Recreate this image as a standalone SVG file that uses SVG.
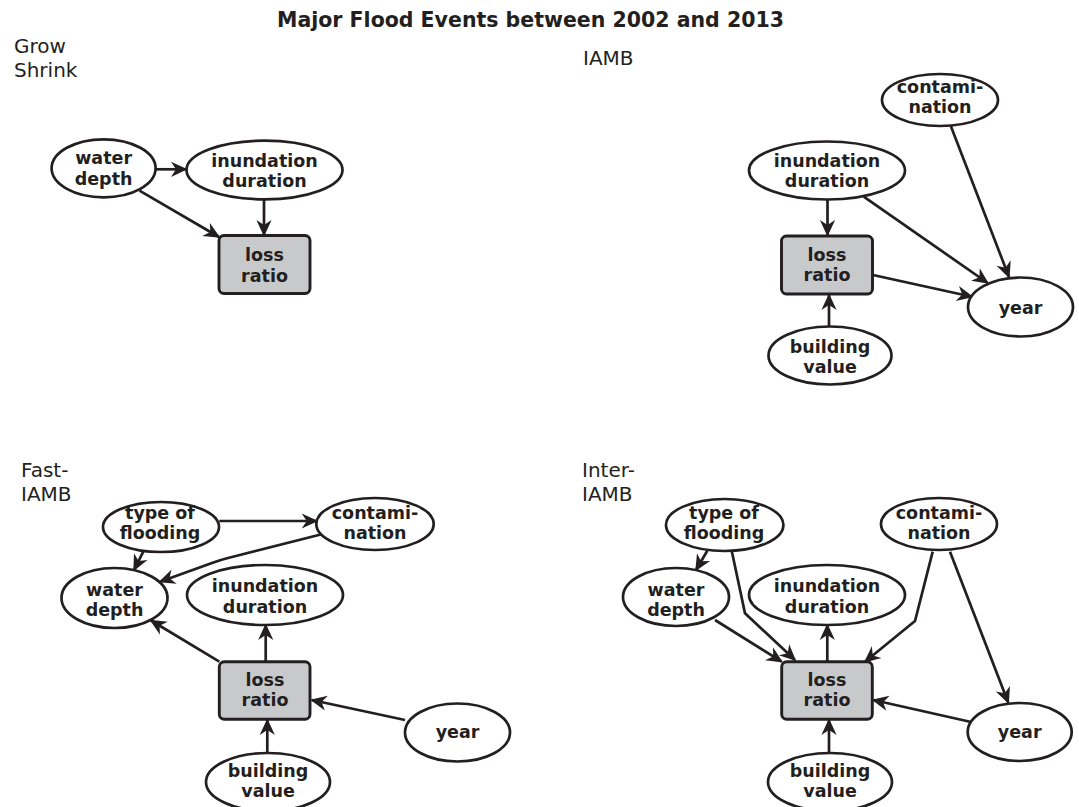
<svg xmlns="http://www.w3.org/2000/svg" width="1079" height="807" viewBox="0 0 1079 807">
<defs>
<style>
.bg{fill:#ffffff}
.title{font-family:"DejaVu Sans",sans-serif;font-weight:bold;font-size:20.5px;fill:#231f20;text-anchor:middle}
.lab{font-family:"DejaVu Sans",sans-serif;font-size:20px;fill:#231f20}
.node ellipse{fill:#ffffff;stroke:#231f20;stroke-width:2.7}
.node rect{fill:#c8c9cb;stroke:#231f20;stroke-width:2.9}
.node text{font-family:"DejaVu Sans",sans-serif;font-weight:bold;font-size:17.5px;fill:#231f20;text-anchor:middle}
.edges path{fill:none;stroke:#231f20;stroke-width:2.7;marker-end:url(#arr)}
</style>
<marker id="arr" viewBox="-17 -9 19 18" refX="0" refY="0" markerWidth="19" markerHeight="18" markerUnits="userSpaceOnUse" orient="auto">
<path d="M1.5,0 L-15,-7.6 L-10,0 L-15,7.6 Z" fill="#231f20"/>
</marker>
</defs>
<rect class="bg" x="0" y="0" width="1079" height="807"/>
<text class="title" x="530.5" y="27">Major Flood Events between 2002 and 2013</text>
<text class="lab" x="14" y="53">Grow</text>
<text class="lab" x="14" y="77">Shrink</text>
<text class="lab" x="583" y="65">IAMB</text>
<text class="lab" x="21" y="477">Fast-</text>
<text class="lab" x="21" y="501">IAMB</text>
<text class="lab" x="582" y="477">Inter-</text>
<text class="lab" x="582" y="501">IAMB</text>

<g class="edges" id="connectors">
<!-- Grow Shrink -->
<path d="M155.6,169.3 L186,169.3"/>
<path d="M139.5,190.7 L219,237"/>
<path d="M264,199.3 L264,235"/>
<!-- IAMB -->
<path d="M827.5,199.3 L827.5,235"/>
<path d="M863.7,196.7 L987.7,283"/>
<path d="M950.8,126 L1009,277"/>
<path d="M873,275 L972,296.7"/>
<path d="M829,326.7 L829,295"/>
<!-- Fast-IAMB -->
<path d="M219.3,521 L316.7,521"/>
<path d="M143.3,551.7 L134,570"/>
<path d="M321.7,534.3 L228,558 Q220,560 212,563 L160,581.7"/>
<path d="M219.3,661.7 L151,620.5"/>
<path d="M265.7,661.7 L265.7,625"/>
<path d="M267.3,752.7 L267.3,720"/>
<path d="M405,720 L311.7,700"/>
<!-- Inter-IAMB -->
<path d="M707.3,550.7 L696,570"/>
<path d="M731.7,550.7 L745,613.3 L795,660"/>
<path d="M715,620 L781.7,661.7"/>
<path d="M932.7,551.7 L915,621 L865,661.7"/>
<path d="M950,551.7 L1008.3,702.7"/>
<path d="M827.3,661.7 L827.3,625"/>
<path d="M829,752.7 L829,720"/>
<path d="M970,721.7 L873.3,700"/>
</g>

<!-- Grow Shrink -->
<g class="node" id="gs-water-depth"><ellipse cx="103.6" cy="168.3" rx="52" ry="29"/><text x="103.6" y="164.3">water</text><text x="103.6" y="185">depth</text></g>
<g class="node" id="gs-inundation-duration"><ellipse cx="264.5" cy="170" rx="78" ry="29.3"/><text x="264.5" y="166.7">inundation</text><text x="264.5" y="187.3">duration</text></g>
<g class="node" id="gs-loss-ratio"><rect x="219" y="235.5" width="91" height="58" rx="5"/><text x="264.5" y="261">loss</text><text x="264.5" y="281.7">ratio</text></g>

<!-- IAMB -->
<g class="node" id="iamb-contamination"><ellipse cx="940" cy="100" rx="58" ry="26"/><text x="940" y="93.3">contami-</text><text x="940" y="113.3">nation</text></g>
<g class="node" id="iamb-inundation-duration"><ellipse cx="827" cy="170.5" rx="78" ry="29"/><text x="827" y="166.7">inundation</text><text x="827" y="186.7">duration</text></g>
<g class="node" id="iamb-loss-ratio"><rect x="781.5" y="236" width="91" height="58" rx="5"/><text x="827" y="260.7">loss</text><text x="827" y="280.7">ratio</text></g>
<g class="node" id="iamb-year"><ellipse cx="1020.5" cy="307" rx="52.5" ry="29.5"/><text x="1020.5" y="314">year</text></g>
<g class="node" id="iamb-building-value"><ellipse cx="830" cy="355.5" rx="61.5" ry="29"/><text x="830" y="352.7">building</text><text x="830" y="372.7">value</text></g>

<!-- Fast-IAMB -->
<g class="node" id="fast-type-of-flooding"><ellipse cx="161" cy="527" rx="58" ry="25"/><text x="160" y="519">type of</text><text x="160" y="539">flooding</text></g>
<g class="node" id="fast-contamination"><ellipse cx="375" cy="524" rx="58.7" ry="26"/><text x="375" y="519">contami-</text><text x="375" y="539">nation</text></g>
<g class="node" id="fast-water-depth"><ellipse cx="114.5" cy="598" rx="53" ry="30"/><text x="114.5" y="596">water</text><text x="114.5" y="616">depth</text></g>
<g class="node" id="fast-inundation-duration"><ellipse cx="265" cy="595" rx="78" ry="30"/><text x="265" y="592">inundation</text><text x="265" y="613">duration</text></g>
<g class="node" id="fast-loss-ratio"><rect x="219.3" y="661.7" width="90.7" height="57.6" rx="5"/><text x="265" y="686">loss</text><text x="265" y="706">ratio</text></g>
<g class="node" id="fast-year"><ellipse cx="457.5" cy="732.5" rx="52.5" ry="29"/><text x="457.5" y="738">year</text></g>
<g class="node" id="fast-building-value"><ellipse cx="268" cy="782" rx="62" ry="29"/><text x="268" y="777">building</text><text x="268" y="797">value</text></g>

<!-- Inter-IAMB -->
<g class="node" id="inter-type-of-flooding"><ellipse cx="724.7" cy="525" rx="58.7" ry="26"/><text x="724" y="519">type of</text><text x="724" y="539">flooding</text></g>
<g class="node" id="inter-contamination"><ellipse cx="939" cy="524" rx="58" ry="26"/><text x="939" y="519">contami-</text><text x="939" y="539">nation</text></g>
<g class="node" id="inter-water-depth"><ellipse cx="676" cy="597" rx="53" ry="29"/><text x="676" y="596">water</text><text x="676" y="616">depth</text></g>
<g class="node" id="inter-inundation-duration"><ellipse cx="827" cy="595" rx="78" ry="30"/><text x="827" y="592">inundation</text><text x="827" y="613">duration</text></g>
<g class="node" id="inter-loss-ratio"><rect x="781.7" y="661.7" width="90.6" height="57.6" rx="5"/><text x="827" y="686">loss</text><text x="827" y="706">ratio</text></g>
<g class="node" id="inter-year"><ellipse cx="1019.7" cy="732" rx="52" ry="29"/><text x="1019.7" y="738">year</text></g>
<g class="node" id="inter-building-value"><ellipse cx="830" cy="782" rx="62" ry="29"/><text x="830" y="777">building</text><text x="830" y="797">value</text></g>
</svg>
